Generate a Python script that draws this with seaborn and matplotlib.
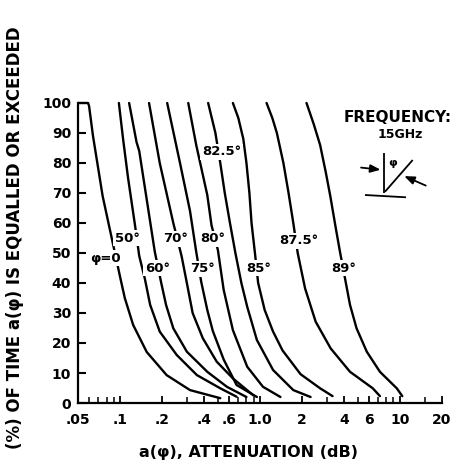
import matplotlib
matplotlib.use("Agg")
import matplotlib.pyplot as plt
import numpy as np
import pandas as pd
import seaborn as sns
from matplotlib.ticker import FixedLocator, FixedFormatter, NullFormatter

# ---------------- data ----------------
curve_names = ["φ=0", "50°", "60°", "70°", "75°", "80°", "82.5°", "85°", "87.5°", "89°"]

atten_0 = [0.05, 0.059, 0.060, 0.064, 0.075, 0.088, 0.100, 0.108, 0.124, 0.155, 0.215, 0.316, 0.52]
pct_0 = [100, 100, 99, 89, 69, 54, 42, 35, 26, 17, 9.3, 4.3, 1.6]

atten_50 = [0.098, 0.105, 0.114, 0.128, 0.137, 0.150, 0.164, 0.192, 0.254, 0.354, 0.52, 0.68]
pct_50 = [100, 88, 75, 59, 49, 41.6, 32.7, 23.8, 16, 9.3, 4.9, 2.1]

atten_60 = [0.116, 0.131, 0.137, 0.177, 0.196, 0.213, 0.24, 0.30, 0.42, 0.58, 0.80]
pct_60 = [100, 87, 84, 50.4, 40.4, 32.7, 24.9, 17.1, 10.4, 5.4, 2.0]

atten_70 = [0.161, 0.192, 0.24, 0.275, 0.30, 0.33, 0.39, 0.49, 0.64, 0.90]
pct_70 = [100, 80, 60, 49, 40, 30, 21.6, 13.8, 8.2, 2.5]

atten_75 = [0.217, 0.268, 0.316, 0.35, 0.38, 0.42, 0.46, 0.55, 0.68, 0.95]
pct_75 = [100, 80, 64, 50.4, 40.4, 31, 24, 14.5, 6, 2]

atten_80 = [0.307, 0.35, 0.42, 0.45, 0.50, 0.55, 0.64, 0.81, 1.05, 1.40]
pct_80 = [100, 86, 69.3, 59.3, 51, 37.7, 24.3, 12.1, 5.4, 2]

atten_825 = [0.426, 0.48, 0.52, 0.56, 0.61, 0.667, 0.736, 0.81, 0.95, 1.24, 1.73, 2.3]
pct_825 = [100, 90, 80, 70, 60, 50, 40, 32.1, 21, 11, 4.3, 2]

atten_85 = [0.64, 0.70, 0.76, 0.80, 0.84, 0.87, 0.92, 0.97, 1.08, 1.24, 1.45, 1.95, 2.69, 3.3]
pct_85 = [100, 95, 88, 80, 70, 60, 50, 40, 31, 23.8, 17.5, 9.6, 4.9, 2.3]

atten_875 = [1.114, 1.225, 1.32, 1.47, 1.60, 1.73, 1.86, 2.1, 2.5, 3.2, 4.4, 6.4, 7.2]
pct_875 = [100, 95, 90, 80, 70, 60, 50, 38.2, 27.1, 18.2, 10.4, 4.9, 2.3]

atten_89 = [2.15, 2.42, 2.69, 2.95, 3.18, 3.49, 3.73, 4.05, 4.4, 4.9, 5.8, 7.2, 9.5, 10.4]
pct_89 = [100, 93, 86, 77, 69, 58, 50.4, 41.6, 32.7, 24.9, 17.1, 10.4, 4.9, 2.3]

x_tick_values = [0.05, 0.1, 0.2, 0.4, 0.6, 1.0, 2, 4, 6, 10, 20]
x_tick_labels = [".05", ".1", ".2", ".4", ".6", "1.0", "2", "4", "6", "10", "20"]
x_minor_values = [0.06, 0.07, 0.08, 0.09, 0.3, 0.5, 0.7, 0.8, 0.9, 3, 5, 7, 8, 9, 15]
y_tick_values = list(range(0, 101, 10))

# label placement (annotation positions, data coords)
label_x = [0.078, 0.112, 0.184, 0.25, 0.39, 0.46, 0.53, 0.98, 1.9, 3.97]
label_y = [48.3, 55, 45, 54.7, 44.7, 54.7, 83.7, 45, 54, 45]

# ---------------- build table ----------------
all_atten = [atten_0, atten_50, atten_60, atten_70, atten_75, atten_80,
             atten_825, atten_85, atten_875, atten_89]
all_pct = [pct_0, pct_50, pct_60, pct_70, pct_75, pct_80,
           pct_825, pct_85, pct_875, pct_89]
rows = []
for name, xs, ys in zip(curve_names, all_atten, all_pct):
    for xv, yv in zip(xs, ys):
        rows.append({"curve": name, "atten": xv, "pct": yv})
df = pd.DataFrame(rows)

# ---------------- style ----------------
sns.set_theme(style="ticks")
plt.rcParams["font.family"] = ["DejaVu Sans"]
for k in ["text.color", "axes.labelcolor", "xtick.color", "ytick.color", "axes.edgecolor"]:
    plt.rcParams[k] = "black"

fig = plt.figure(figsize=(4.61, 4.73), dpi=100)
W, H = 461, 473
ax = fig.add_axes([78 / W, 1 - 403 / H, 364 / W, 303 / H])

sns.lineplot(data=df, x="atten", y="pct", hue="curve", units="curve",
             palette={n: "black" for n in curve_names}, estimator=None,
             sort=True, legend=False, linewidth=1.7, ax=ax, zorder=2)

ax.set_xscale("log")
ax.set_xlim(0.05, 20)
ax.set_ylim(0, 101)

for s in ["top", "right"]:
    ax.spines[s].set_visible(False)
ax.spines["left"].set_bounds(0, 100)
for s in ["left", "bottom"]:
    ax.spines[s].set_linewidth(1.6)

ax.xaxis.set_major_locator(FixedLocator(x_tick_values))
ax.xaxis.set_major_formatter(FixedFormatter(x_tick_labels))
ax.xaxis.set_minor_locator(FixedLocator(x_minor_values))
ax.xaxis.set_minor_formatter(NullFormatter())
ax.set_yticks(y_tick_values)
ax.set_yticklabels([str(v) for v in y_tick_values])

ax.tick_params(axis="y", which="major", direction="in", length=6, width=1.5,
               labelsize=10, pad=5, left=True)
ax.tick_params(axis="x", which="major", direction="in", length=5, width=1.3,
               labelsize=10, pad=7, bottom=True)
ax.tick_params(axis="x", which="minor", direction="in", length=4, width=1.1, bottom=True)
for lab in ax.get_xticklabels() + ax.get_yticklabels():
    lab.set_fontweight("bold")

ax.set_xlabel("a(φ), ATTENUATION (dB)", fontsize=11.5, fontweight="bold")
ax.set_ylabel("(%) OF TIME a(φ) IS EQUALLED OR EXCEEDED", fontsize=12, fontweight="bold")
ax.xaxis.set_label_coords((248 - 78) / 364, (403 - 452) / 303)
ax.xaxis.label.set_va("center")
ax.yaxis.set_label_coords((15 - 78) / 364, (403 - 238) / 303)
ax.yaxis.label.set_va("center")

for t, lx, ly in zip(curve_names, label_x, label_y):
    ax.text(lx, ly, t, ha="center", va="center", fontsize=9.5, fontweight="bold",
            bbox=dict(boxstyle="square,pad=0.12", fc="white", ec="none"), zorder=5)

# frequency note and incidence sketch
def axf(px, py):
    return ((px - 78) / 364, (403 - py) / 303)

ax.text(*axf(398, 117), "FREQUENCY:", transform=ax.transAxes, ha="center", va="center",
        fontsize=11, fontweight="bold")
ax.text(*axf(400, 134), "15GHz", transform=ax.transAxes, ha="center", va="center",
        fontsize=9, fontweight="bold")
lw = 1.3
for (a, b) in [((384.3, 153.3), (384.3, 193.3)), ((385, 191.7), (412.7, 160)),
               ((365, 195), (406, 197.3))]:
    p, q = axf(*a), axf(*b)
    ax.plot([p[0], q[0]], [p[1], q[1]], transform=ax.transAxes, color="black",
            lw=lw, clip_on=False, solid_capstyle="butt")
ax.annotate("", xy=axf(383.3, 170), xytext=axf(358.3, 167.3), xycoords="axes fraction",
            textcoords="axes fraction",
            arrowprops=dict(arrowstyle="-|>,head_length=0.5,head_width=0.2", lw=lw, color="black"))
ax.annotate("", xy=axf(401.7, 175), xytext=axf(428.3, 186.7), xycoords="axes fraction",
            textcoords="axes fraction",
            arrowprops=dict(arrowstyle="-|>,head_length=0.5,head_width=0.2", lw=lw, color="black"))
ax.text(*axf(392.7, 163.3), "φ", transform=ax.transAxes, ha="center", va="center",
        fontsize=8, fontweight="bold")

fig.savefig("out.png", dpi=100)
